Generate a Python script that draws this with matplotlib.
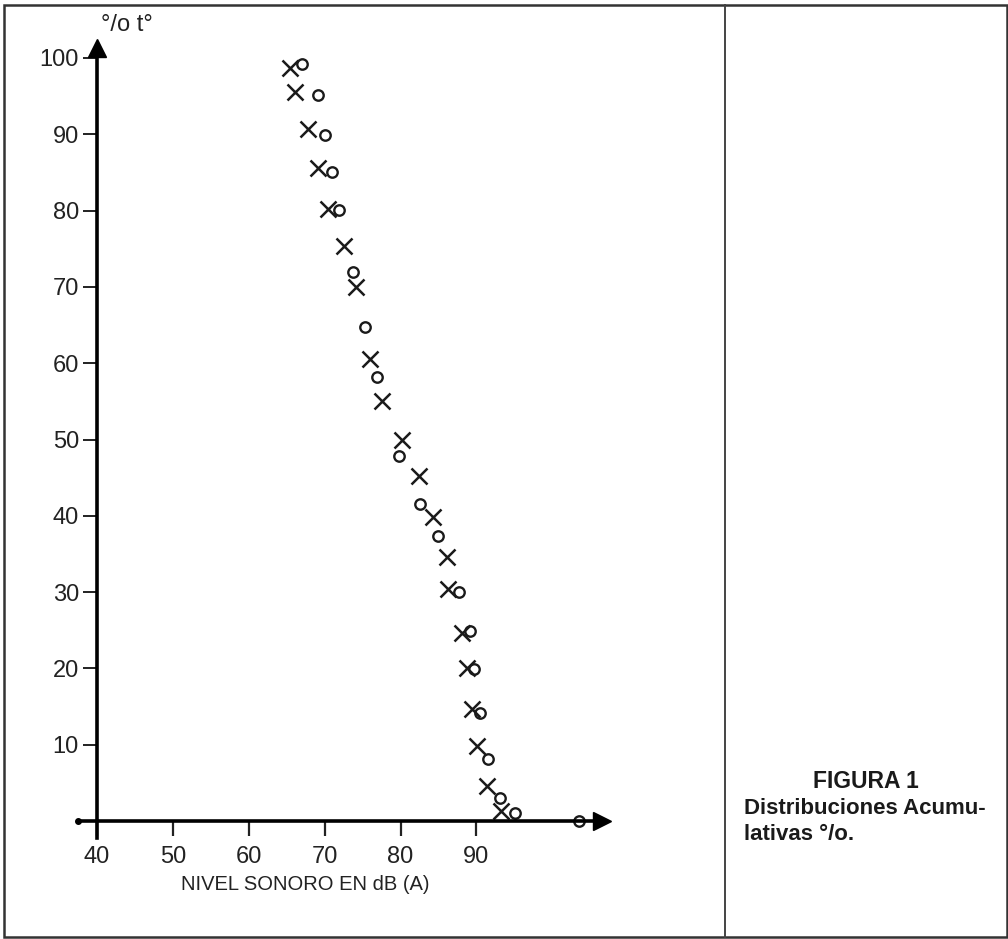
import matplotlib
matplotlib.use('Agg')
import matplotlib.pyplot as plt
from matplotlib.lines import Line2D
from matplotlib.patches import Rectangle

# curve marked with "x"
x_level = [65.4, 66.1, 67.8, 69.1, 70.4, 72.5, 74.1, 76.0, 77.5, 80.2,
           82.4, 84.3, 86.1, 86.2, 88.1, 88.7, 89.4, 90.1, 91.4, 93.2]
x_pct = [98.7, 95.5, 90.7, 85.6, 80.2, 75.3, 70.0, 60.5, 55.0, 50.0,
         45.2, 39.8, 34.6, 30.4, 24.7, 20.0, 14.7, 9.8, 4.6, 1.3]

# curve marked with "o"
o_level = [67.0, 69.1, 70.0, 71.0, 71.9, 73.7, 75.3, 76.9, 79.8, 82.5,
           84.9, 87.7, 89.1, 89.7, 90.5, 91.5, 93.1, 95.1, 103.5]
o_pct = [99.2, 95.2, 89.9, 85.1, 80.1, 71.9, 64.7, 58.2, 47.8, 41.5,
         37.3, 30.0, 24.9, 19.9, 14.1, 8.1, 3.0, 1.0, 0.0]

x_ticks = [40, 50, 60, 70, 80, 90]
y_ticks = [10, 20, 30, 40, 50, 60, 70, 80, 90, 100]

W, H = 1008, 939


def plot_distribuciones(save_to_file='out.png'):
    plt.rcParams['font.family'] = ['Liberation Sans', 'DejaVu Sans']

    fig = plt.figure(figsize=(W / 100, H / 100), dpi=100)

    # axes placed so that 40 dB -> px 97, 0 % -> px 821
    sx, sy = 7.59, 7.63
    left_px, right_px, top_px, bot_px = 60, 640, 15, 850
    ax = fig.add_axes([left_px / W, 1 - bot_px / H,
                       (right_px - left_px) / W, (bot_px - top_px) / H])
    ax.set_xlim(40 - (97 - left_px) / sx, 40 + (right_px - 97) / sx)
    ax.set_ylim(-(bot_px - 821) / sy, (821 - top_px) / sy)
    ax.patch.set_visible(False)

    for side in ('top', 'right'):
        ax.spines[side].set_visible(False)
    ax.spines['left'].set_position(('data', 40))
    ax.spines['bottom'].set_position(('data', 0))
    ax.spines['left'].set_bounds(-2.2, 101.0)
    ax.spines['bottom'].set_bounds(37.5, 106.0)
    ax.spines['left'].set_linewidth(2.6)
    ax.spines['bottom'].set_linewidth(2.6)

    # arrow heads
    ax.plot([40], [101.3], marker='^', ms=13, color='black', clip_on=False)
    ax.plot([106.6], [0], marker='>', ms=13, color='black', clip_on=False)
    ax.plot([37.5], [0], marker='o', ms=4, color='black', clip_on=False)

    ax.set_xticks(x_ticks)
    ax.set_xticklabels([str(t) for t in x_ticks])
    ax.set_yticks(y_ticks)
    ax.set_yticklabels([str(t) for t in y_ticks])
    ax.tick_params(axis='x', direction='out', length=11, width=1.6, pad=7,
                   labelsize=17, colors='#222222')
    ax.tick_params(axis='y', direction='out', length=10, width=1.4, pad=3,
                   labelsize=17, colors='#222222')

    ax.plot(x_level, x_pct, linestyle='none', marker='x', ms=11, mew=1.8,
            color='#1a1a1a', clip_on=False)
    ax.plot(o_level, o_pct, linestyle='none', marker='o', ms=7.5, mew=1.7,
            mfc='none', mec='#1a1a1a', clip_on=False)

    ax.text(40.5, 104.3, '°/o t°', fontsize=17, color='#222222',
            ha='left', va='center')

    fig.text(305 / W, 1 - 885 / H, 'NIVEL SONORO EN dB (A)', fontsize=14.5,
             color='#222222', ha='center', va='center')

    # frame and divider
    fig.add_artist(Rectangle((4 / W, 1 - 937 / H), 1003 / W, 932 / H,
                             transform=fig.transFigure, fill=False,
                             lw=1.8, ec='#333333'))
    fig.add_artist(Line2D([725 / W, 725 / W], [1 - 937 / H, 1 - 5 / H],
                          transform=fig.transFigure, lw=1.4, color='#444444'))

    cap = ['Liberation Sans', 'DejaVu Sans']
    fig.text(866 / W, 1 - 781 / H, 'FIGURA 1', fontsize=16.5, fontweight='bold',
             family=cap, ha='center', va='center', color='#1a1a1a')
    fig.text(744 / W, 1 - 808 / H, 'Distribuciones Acumu-', fontsize=16,
             fontweight='bold', family=cap, ha='left', va='center',
             color='#1a1a1a')
    fig.text(744 / W, 1 - 835 / H, 'lativas °/o.', fontsize=16,
             fontweight='bold', family=cap, ha='left', va='center',
             color='#1a1a1a')

    fig.savefig(save_to_file, dpi=100)


if __name__ == '__main__':
    plot_distribuciones()
